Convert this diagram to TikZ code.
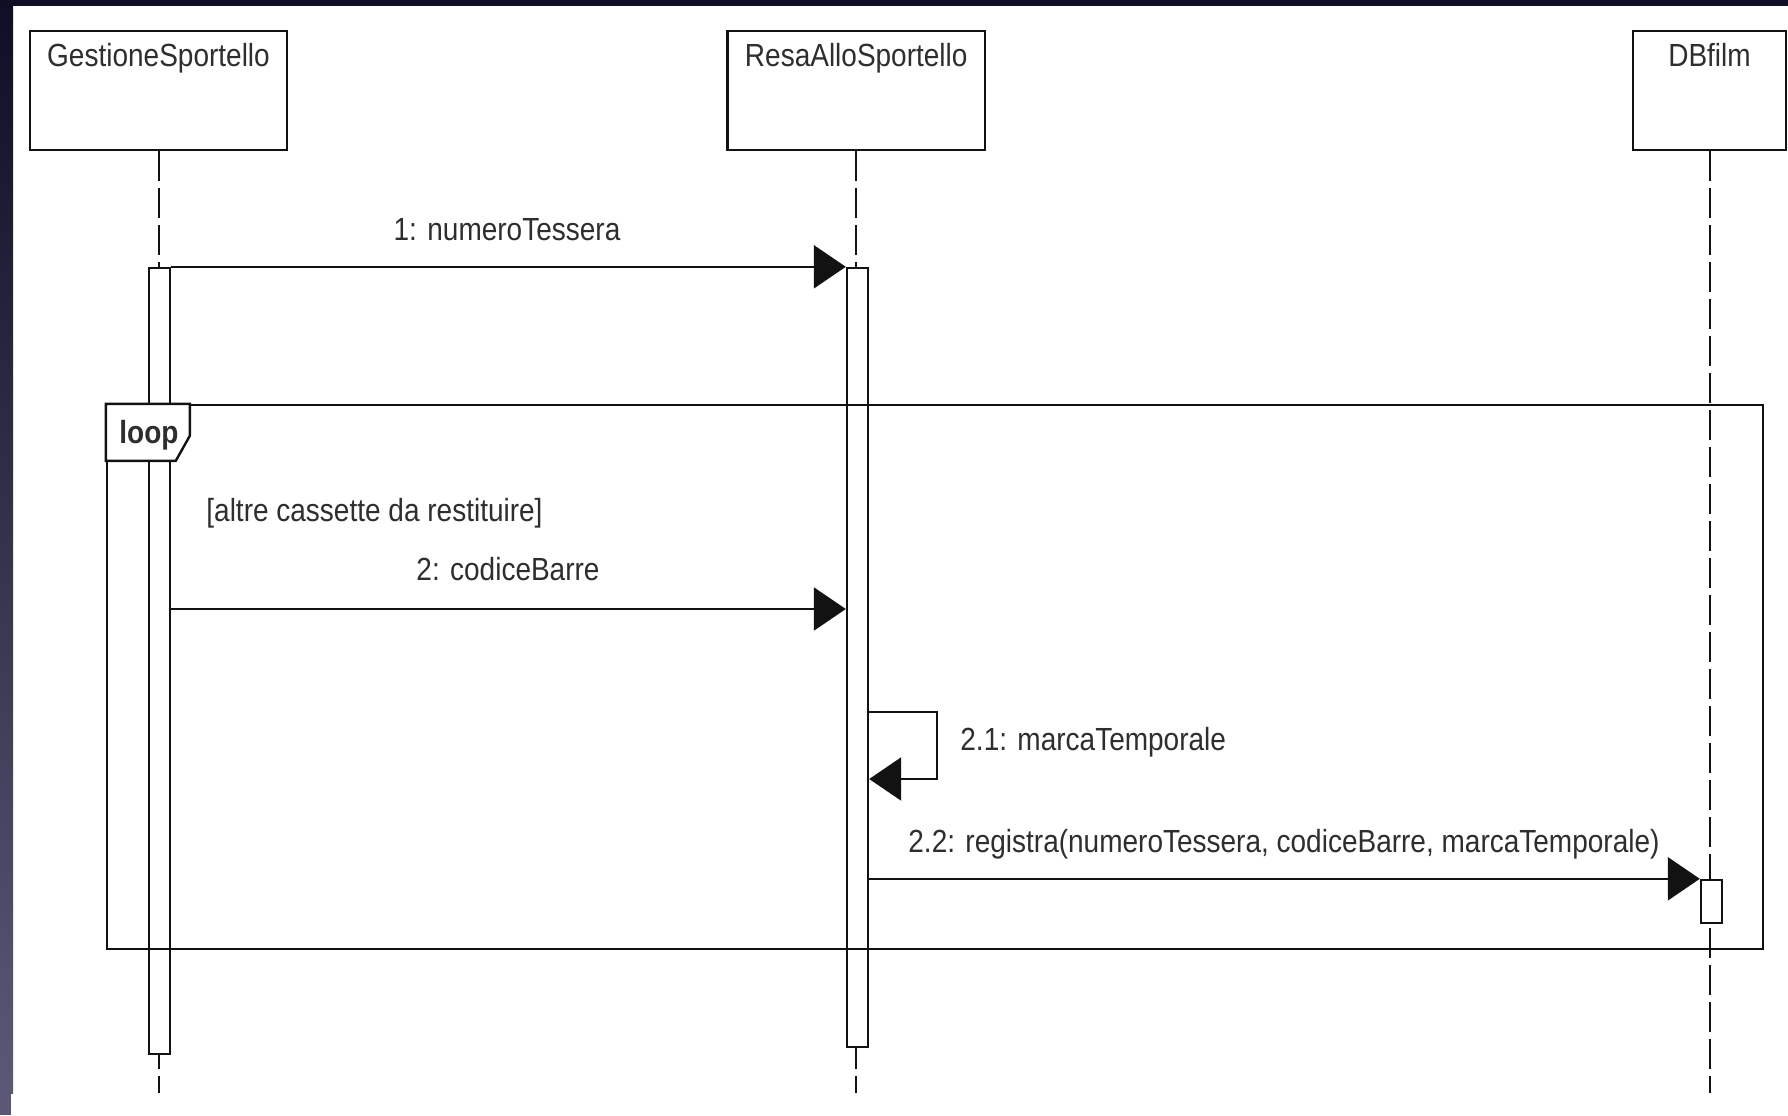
\documentclass[tikz,border=0pt]{standalone}
\usepackage{fontspec}
\setmainfont[FakeStretch=0.875]{Liberation Sans}
\usetikzlibrary{arrows.meta}
\definecolor{frameink}{HTML}{121212}
\definecolor{edgetop}{HTML}{0E0E24}
\definecolor{edgemid}{HTML}{2A2A4C}
\definecolor{edgebot}{HTML}{5A5876}
\definecolor{txt}{HTML}{2E2E2E}
\tikzset{
  objbox/.style={draw=frameink, line width=1.3pt, fill=white, inner sep=0pt},
  objtitle/.style={anchor=base, inner sep=0pt, text=txt},
  lifeline/.style={draw=frameink, line width=1pt, dash pattern=on 15pt off 3.5pt},
  actbar/.style={draw=frameink, line width=1.2pt, fill=white, inner sep=0pt, minimum width=10.5pt},
  msg/.style={draw=frameink, line width=1.2pt, -{Triangle[length=16pt,width=21.5pt]}},
  msgtext/.style={inner sep=0pt, text=txt},
  fragment/.style={draw=frameink, line width=1.2pt, inner sep=0pt}
}
\begin{document}
\begin{tikzpicture}[x=0.5pt, y=-0.5pt, every node/.style={font=\fontsize{16}{19}\selectfont}]
\useasboundingbox (0,0) rectangle (1788,1115);
% page and window edge
\fill[white] (0,0) rectangle (1788,1115);
\fill[edgetop] (0,0) rectangle (1788,6);
\shade[top color=edgetop, middle color=edgemid, bottom color=edgebot] (0,0) rectangle (13,1093);
\fill[edgebot] (0,1093) rectangle (11,1115);

% participants
\node[objbox, minimum width=128.5pt, minimum height=59.5pt] (gs) at (158.5,90.5) {};
\node[objbox, minimum width=128.75pt, minimum height=59.5pt] (ra) at (856.25,90.5) {};
\node[objbox, minimum width=76.5pt, minimum height=59.5pt] (db) at (1709.5,90.5) {};
\node[objtitle] (gst) at ([yshift=-18.5pt]gs.north) {GestioneSportello};
\node[objtitle] (rat) at ([yshift=-18.5pt]ra.north) {ResaAlloSportello};
\node[objtitle] (dbt) at ([yshift=-18.5pt]db.north) {DBfilm};

% lifelines
\coordinate (gsend) at (158.5,1093);
\coordinate (raend) at (856.25,1093);
\coordinate (dbend) at (1709.5,1093);
\draw[lifeline] (gs.south) -- (gsend);
\draw[lifeline] (ra.south) -- (raend);
\draw[lifeline] (db.south) -- (dbend);

% activation bars
\node[actbar, minimum height=393pt] (gsbar) at (159.5,661) {};
\node[actbar, minimum height=389.5pt] (rabar) at (857.5,657.5) {};
\node[actbar, minimum height=21.5pt] (dbbar) at (1711.5,901.5) {};

% combined fragment: loop
\node[fragment, minimum width=828pt, minimum height=272pt] (loopbox) at (935,677) {};
\draw[fragment, fill=white] (loopbox.north west) -- ++(84,0) -- ++(0,32) -- ++(-14,25) -- ++(-70,0) -- cycle;
\node[msgtext, anchor=base, font=\fontsize{16}{19}\selectfont\bfseries] (looplbl) at (149,443) {loop};
\node[msgtext, anchor=base west] (guard) at (206,521) {[altre cassette da restituire]};

% messages
\draw[msg] (gsbar.north east) -- (rabar.north west);
\node[msgtext, anchor=base] (m1) at (507,240) {1: numeroTessera};

\coordinate (y2) at (0,609);
\draw[msg] (gsbar.east |- y2) -- (rabar.west |- y2);
\node[msgtext, anchor=base] (m2) at (508,580) {2: codiceBarre};

\coordinate (y21a) at (0,712);
\coordinate (y21b) at (0,779);
\draw[msg] (rabar.east |- y21a) -- ++(68,0) |- (rabar.east |- y21b);
\node[msgtext, anchor=base west] (m21) at (960,750) {2.1: marcaTemporale};

\draw[msg] (rabar.east |- dbbar.north) -- (dbbar.north west);
\node[msgtext, anchor=base west] (m22) at (908,852) {2.2: registra(numeroTessera, codiceBarre, marcaTemporale)};
\end{tikzpicture}
\end{document}
